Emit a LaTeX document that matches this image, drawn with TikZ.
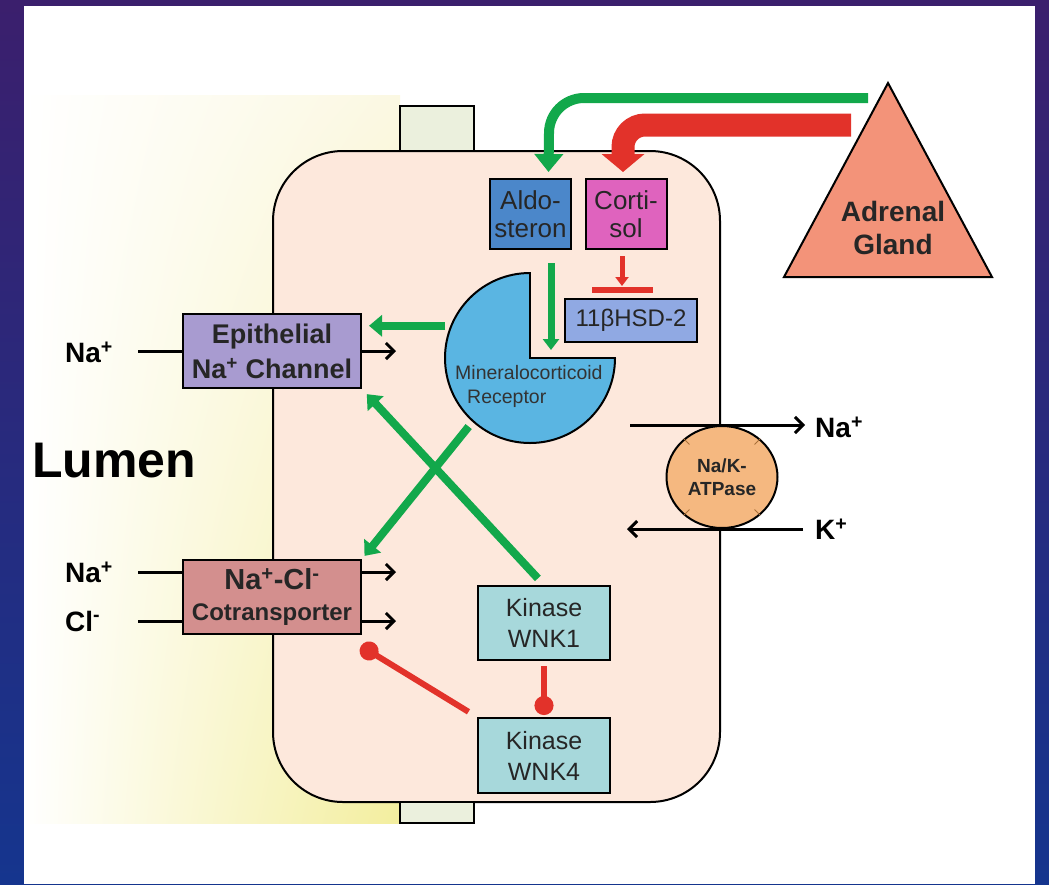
\documentclass[tikz,border=0pt]{standalone}
\usepackage{fontspec}
\setmainfont{Liberation Sans}
\usetikzlibrary{arrows.meta,shapes.geometric,shadings,calc,positioning}
\tikzset{>=stealth}
\definecolor{bgtop}{HTML}{3B1F6D}
\definecolor{bgbot}{HTML}{15358E}
\definecolor{lumtop}{HTML}{FBF8E2}
\definecolor{lumbot}{HTML}{F3EE9E}
\definecolor{cellfill}{HTML}{FDE8DC}
\definecolor{tjfill}{HTML}{EBF0DD}
\definecolor{enacfill}{HTML}{A89BD0}
\definecolor{nccfill}{HTML}{D38F8E}
\definecolor{aldofill}{HTML}{4B87CA}
\definecolor{cortifill}{HTML}{DF63BE}
\definecolor{hsdfill}{HTML}{90A9E3}
\definecolor{wnkfill}{HTML}{A7D8DB}
\definecolor{mrfill}{HTML}{5AB5E2}
\definecolor{atpfill}{HTML}{F5B880}
\definecolor{glandfill}{HTML}{F39379}
\definecolor{grn}{HTML}{12A84B}
\definecolor{rd}{HTML}{E2322A}
\definecolor{tickc}{HTML}{A8703A}
\tikzset{
  box/.style={draw=black,line width=2pt,inner sep=0pt,align=center,text=black!85},
  ion/.style={inner sep=0pt,font=\fontsize{28}{32}\selectfont\bfseries},
  ionline/.style={line width=3pt},
  flux/.style={line width=3pt,-{Straight Barb[length=8pt,width=16pt]}},
  act/.style={draw=grn,line width=8pt,-{Triangle[length=13pt,width=21pt]}},
  inh/.style={draw=rd,line width=6pt,-{Circle[length=19pt]}},
}

\begin{document}
\begin{tikzpicture}[x=1pt,y=-1pt]
\useasboundingbox (0,0) rectangle (1049,884);
% frame and lumen
\shade[top color=bgtop,bottom color=bgbot] (0,0) rectangle (1049,884);
\fill[white] (24,6) rectangle (1035,884);
\shade[upper left=white,lower left=white,upper right=lumtop,lower right=lumbot] (24,95) rectangle (400,823);
\node (lumen) at (114,461) [font=\fontsize{50}{56}\selectfont\bfseries,inner sep=0pt] {Lumen};

% cell with tight junctions
\draw[fill=cellfill,line width=2pt,rounded corners=70pt] (273,151) rectangle (720,802);
\draw[fill=tjfill,line width=2pt] (400,106) rectangle (474,151);
\draw[fill=tjfill,line width=2pt] (400,802) rectangle (474,823);

% receptor
\node (mr) at (530,358) [circle,draw=black,line width=2pt,fill=mrfill,minimum size=170pt,inner sep=0pt] {};
\fill[cellfill] (mr.center) rectangle ($(mr.north -| mr.east)+(2,-2)$);
\draw[line width=2pt] (mr.north) -- (mr.center) -- (mr.east);
\node (mrtxt) at (455,386) [anchor=west,align=left,inner sep=0pt,text=black!80,font=\fontsize{19.5}{24}\selectfont] {Mineralocorticoid\\\hspace*{12pt}Receptor};

\node (enac) at (272,351) [box,fill=enacfill,minimum width=178pt,minimum height=74pt,font=\fontsize{27}{35}\selectfont\bfseries] {Epithelial\\Na\textsuperscript{+} Channel};
\node (ncc) at (272,597) [box,fill=nccfill,minimum width=178pt,minimum height=74pt,font=\fontsize{24}{31}\selectfont\bfseries] {{\fontsize{29}{31}\selectfont Na\textsuperscript{+}-Cl\textsuperscript{-}}\\Cotransporter};
\node (aldo) at (530.5,214) [box,fill=aldofill,minimum width=81pt,minimum height=70pt,font=\fontsize{26}{28}\selectfont] {Aldo-\\steron};
\node (corti) at (626,214) [box,fill=cortifill,minimum width=81pt,minimum height=70pt,font=\fontsize{26}{28}\selectfont] {Corti-\\sol};
\node (hsd) at (631,320.5) [box,fill=hsdfill,minimum width=132pt,minimum height=43pt,font=\fontsize{24}{28}\selectfont] {11βHSD-2};
\node (wnk1) at (544,623) [box,fill=wnkfill,minimum width=132pt,minimum height=74pt,font=\fontsize{25}{31}\selectfont] {Kinase\\WNK1};
\node (wnk4) at (544,755.5) [box,fill=wnkfill,minimum width=132pt,minimum height=75pt,font=\fontsize{25}{31}\selectfont] {Kinase\\WNK4};

% Na/K pump
\node (atp) at (722,477) [ellipse,draw=black,line width=2pt,fill=atpfill,minimum width=111pt,minimum height=102pt,inner sep=0pt,align=center,font=\fontsize{19}{23}\selectfont\bfseries,text=black!85] {Na/K-\\ATPase};
\foreach \a in {45,135,225,315}
  \draw[tickc,line width=1pt] (atp.\a) -- ($(atp.center)!0.85!(atp.\a)$);

% adrenal gland
\filldraw[fill=glandfill,line width=2pt] (888,83) -- (992,277) -- (784,277) -- cycle;
\node (gland) at (893,228) [align=center,font=\fontsize{28}{33}\selectfont\bfseries,text=black!85] {Adrenal\\Gland};
\coordinate (aldoOut) at (868,98);
\coordinate (cortiOut) at (851,125);

% hormones
\draw[act,line width=10pt,-{Triangle[length=18pt,width=28pt]}] (aldoOut) -- (584,98) arc[start angle=-90,end angle=-180,radius=35] -- ([xshift=18pt,yshift=6pt]aldo.north);
\draw[draw=rd,line width=23pt,-{Triangle[length=18pt,width=42pt]}] (cortiOut) -- (645,125) arc[start angle=-90,end angle=-180,radius=22] -- ([xshift=-3pt,yshift=6pt]corti.north);
\draw[act,line width=7pt,-{Triangle[length=11pt,width=16pt]},shorten <=13pt] ([xshift=20.5pt]aldo.south) -- ([xshift=21pt,yshift=8pt]mr.center);
\draw[draw=rd,line width=5pt,-{Triangle[length=9pt,width=13pt]},shorten <=6pt] ([xshift=-4pt]corti.south) -- ([xshift=-9pt,yshift=12pt]hsd.north);
\draw[draw=rd,line width=6pt] ([xshift=-39pt,yshift=8pt]hsd.north) -- ([xshift=22pt,yshift=8pt]hsd.north);

% regulation
\draw[act,shorten <=5pt,shorten >=7pt] (mr.158) -- (mr.158 -| enac.east);
\draw[act,shorten <=6pt,shorten >=4pt] (mr.228) -- (ncc.north east);
\draw[act,shorten <=9pt,shorten >=7pt] (wnk1.north) -- (enac.south east);
\draw[inh,shorten <=5pt,shorten >=2pt] (wnk1.south) -- (wnk4.north);
\draw[inh,shorten <=10pt] (wnk4.north west) -- ([xshift=-1pt,yshift=-11pt]ncc.south east);

% ion flux
\node (naA) at (65,352) [ion,anchor=west] {Na\textsuperscript{+}};
\node (naB) at (65,572) [ion,anchor=west] {Na\textsuperscript{+}};
\node (clB) at (65,621) [ion,anchor=west] {Cl\textsuperscript{-}};
\draw[ionline] (enac.west) -- ++(-44,0);
\draw[flux] (enac.east) -- ++(34,0);
\draw[ionline] ([yshift=25pt]ncc.west) -- ++(-44,0);
\draw[ionline] ([yshift=-24pt]ncc.west) -- ++(-44,0);
\draw[flux] ([yshift=25pt]ncc.east) -- ++(34,0);
\draw[flux] ([yshift=-24pt]ncc.east) -- ++(34,0);
\draw[flux] ([xshift=-92pt]atp.north) -- ++(175,0);
\draw[flux] ([xshift=81pt]atp.south) -- ++(-176,0);
\node (naC) at (815,427) [ion,anchor=west] {Na\textsuperscript{+}};
\node (kC) at (815,529) [ion,anchor=west] {K\textsuperscript{+}};
\end{tikzpicture}
\end{document}
